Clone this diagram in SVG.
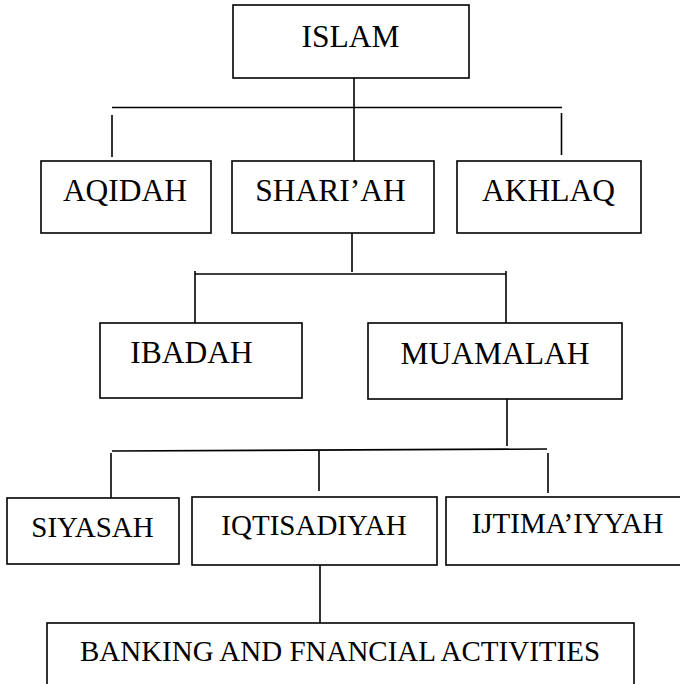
<svg xmlns="http://www.w3.org/2000/svg" width="680" height="684" viewBox="0 0 680 684">
<style>
.box{fill:#fff;stroke:#000;stroke-width:1.6}
.ln{stroke:#000;stroke-width:1.6;fill:none}
.t{font-family:"Liberation Serif","Times New Roman",serif;fill:#000;text-anchor:middle}
.a{font-size:31.5px}
.b{font-size:29px}
</style>
<rect width="680" height="684" fill="#fff"/>
<g id="connectors">
<line class="ln" x1="354" y1="78" x2="354" y2="161"/>
<line class="ln" x1="112" y1="107.5" x2="562" y2="107.5"/>
<line class="ln" x1="112" y1="115" x2="112" y2="157"/>
<line class="ln" x1="561.5" y1="113" x2="561.5" y2="155"/>
<line class="ln" x1="352" y1="233" x2="352" y2="272"/>
<line class="ln" x1="195" y1="274" x2="506" y2="274"/>
<line class="ln" x1="195" y1="271" x2="195" y2="323"/>
<line class="ln" x1="506" y1="271" x2="506" y2="323"/>
<line class="ln" x1="507" y1="399" x2="507" y2="446"/>
<line class="ln" x1="112" y1="451" x2="547" y2="449"/>
<line class="ln" x1="111" y1="453" x2="111" y2="498"/>
<line class="ln" x1="319" y1="450" x2="319" y2="491"/>
<line class="ln" x1="548" y1="453" x2="548" y2="493"/>
<line class="ln" x1="320" y1="565" x2="320" y2="623"/>
</g>
<g id="islam"><rect class="box" x="233" y="5" width="236" height="73"/><text class="t a" x="350.5" y="47">ISLAM</text></g>
<g id="aqidah"><rect class="box" x="41" y="161" width="170" height="72"/><text class="t a" x="125" y="201">AQIDAH</text></g>
<g id="shariah"><rect class="box" x="232" y="161" width="202" height="72"/><text class="t a" x="330.5" y="201">SHARI’AH</text></g>
<g id="akhlaq"><rect class="box" x="457" y="161" width="184" height="72"/><text class="t a" x="548.5" y="201">AKHLAQ</text></g>
<g id="ibadah"><rect class="box" x="100" y="323" width="202" height="75"/><text class="t a" x="191.5" y="363">IBADAH</text></g>
<g id="muamalah"><rect class="box" x="368" y="323" width="254" height="76"/><text class="t a" x="495" y="364">MUAMALAH</text></g>
<g id="siyasah"><rect class="box" x="7" y="498" width="172" height="66"/><text class="t b" x="92.5" y="537">SIYASAH</text></g>
<g id="iqtisadiyah"><rect class="box" x="192" y="497" width="245" height="68"/><text class="t b" x="314" y="535">IQTISADIYAH</text></g>
<g id="ijtimaiyyah"><rect class="box" x="446" y="497" width="244" height="68"/><text class="t b" x="567.5" y="533">IJTIMA’IYYAH</text></g>
<g id="banking"><rect class="box" x="47" y="623" width="587" height="80"/><text class="t b" x="340" y="661">BANKING AND FNANCIAL ACTIVITIES</text></g>
</svg>
